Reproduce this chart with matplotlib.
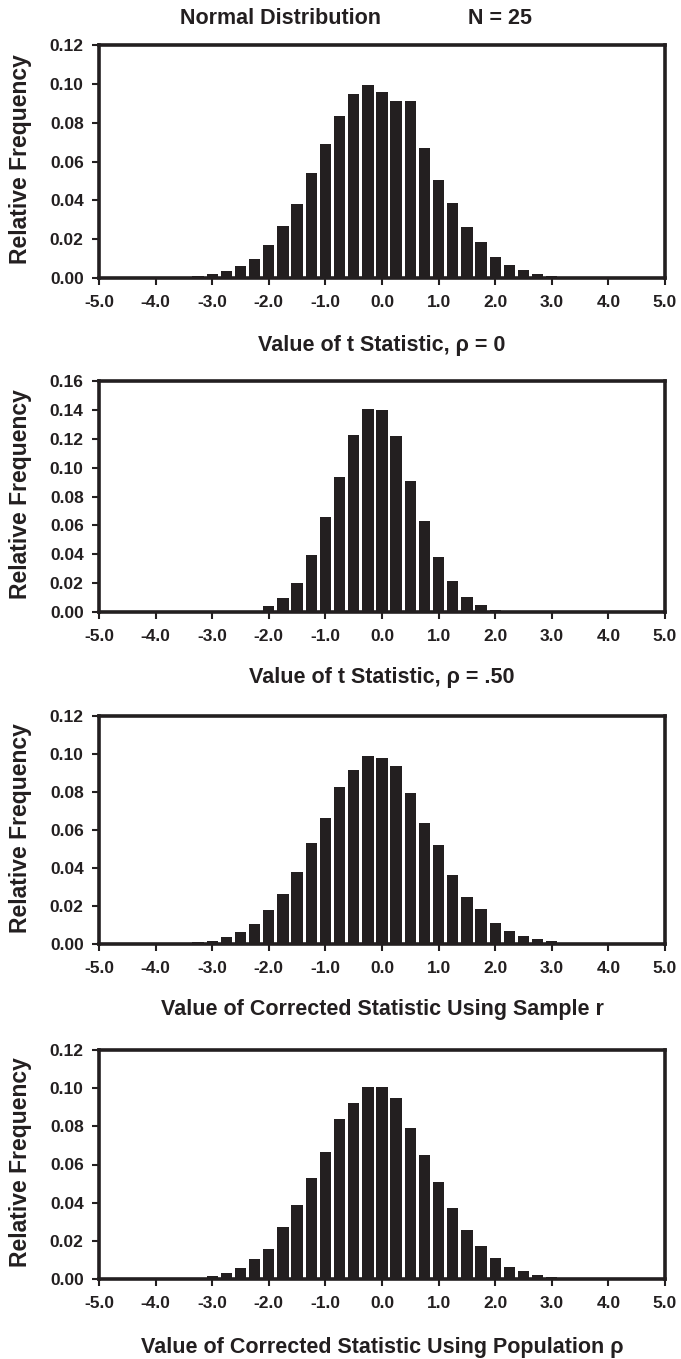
import matplotlib
matplotlib.use("Agg")
import matplotlib.pyplot as plt
import numpy as np
from matplotlib.ticker import FormatStrFormatter, MultipleLocator

plt.rcParams['font.family'] = ['Liberation Sans', 'DejaVu Sans']
plt.rcParams['font.weight'] = 'bold'

# bin centres, step 0.25 from -5 to 5
bin_centers = np.arange(-5.0, 5.001, 0.25)

# relative frequencies (41 bins each)
freq_t_rho0 = [0, 0, 0, 0, 0, 0, 0,
               0.0010, 0.0020, 0.0038, 0.0060, 0.0099, 0.0169, 0.0270, 0.0380,
               0.0539, 0.0692, 0.0832, 0.0949, 0.0994, 0.0957, 0.0914, 0.0914,
               0.0670, 0.0507, 0.0387, 0.0262, 0.0185, 0.0110, 0.0065, 0.0042,
               0.0019, 0.0012,
               0, 0, 0, 0, 0, 0, 0, 0]
freq_t_rho50 = [0, 0, 0, 0, 0, 0, 0,
                0, 0, 0, 0, 0.0009, 0.0040, 0.0098, 0.0200,
                0.0398, 0.0656, 0.0935, 0.1228, 0.1405, 0.1400, 0.1219, 0.0907,
                0.0628, 0.0379, 0.0214, 0.0107, 0.0049, 0.0016, 0, 0,
                0, 0,
                0, 0, 0, 0, 0, 0, 0, 0]
freq_corr_sample = [0, 0, 0, 0, 0, 0, 0,
                    0.0010, 0.0017, 0.0038, 0.0063, 0.0106, 0.0177, 0.0261, 0.0377,
                    0.0534, 0.0663, 0.0824, 0.0915, 0.0990, 0.0981, 0.0936, 0.0797,
                    0.0635, 0.0522, 0.0365, 0.0247, 0.0186, 0.0113, 0.0071, 0.0043,
                    0.0026, 0.0016,
                    0, 0, 0, 0, 0, 0, 0, 0]
freq_corr_pop = [0, 0, 0, 0, 0, 0, 0,
                 0, 0.0014, 0.0033, 0.0058, 0.0103, 0.0157, 0.0272, 0.0389,
                 0.0527, 0.0663, 0.0841, 0.0922, 0.1006, 0.1006, 0.0950, 0.0793,
                 0.0652, 0.0507, 0.0373, 0.0255, 0.0173, 0.0110, 0.0065, 0.0040,
                 0.0023, 0.0010,
                 0, 0, 0, 0, 0, 0, 0, 0]

panels = [freq_t_rho0, freq_t_rho50, freq_corr_sample, freq_corr_pop]
y_max = [0.12, 0.16, 0.12, 0.12]
x_labels = ["Value of t Statistic, \u03c1 = 0",
            "Value of t Statistic, \u03c1 = .50",
            "Value of Corrected Statistic Using Sample r",
            "Value of Corrected Statistic Using Population \u03c1"]

dark = "#231f20"
W, H = 681, 1359
# axes boxes in pixels: top, bottom
boxes = [(45, 278), (381, 612), (716, 944), (1050, 1279)]
xlab_y = [345, 677, 1010, 1348]
left_px, right_px = 99, 665
lab_size = 15.5

fig = plt.figure(figsize=(W / 100, H / 100), dpi=100)

for i in range(4):
    top, bot = boxes[i]
    ax = fig.add_axes([left_px / W, 1 - bot / H, (right_px - left_px) / W, (bot - top) / H])
    ax.bar(bin_centers, panels[i], width=0.2, color=dark, linewidth=0)
    ax.set_xlim(-5, 5)
    ax.set_ylim(0, y_max[i])
    ax.xaxis.set_major_locator(MultipleLocator(1.0))
    ax.yaxis.set_major_locator(MultipleLocator(0.02))
    ax.xaxis.set_major_formatter(FormatStrFormatter("%.1f"))
    ax.yaxis.set_major_formatter(FormatStrFormatter("%.2f"))
    for s in ax.spines.values():
        s.set_linewidth(2.6)
        s.set_color(dark)
    ax.tick_params(axis="both", direction="out", length=5, width=1.5, color=dark,
                   labelsize=12.5, labelcolor=dark)
    ax.tick_params(axis="x", pad=7)
    ax.tick_params(axis="y", pad=6)
    ax.set_ylabel("Relative Frequency", fontsize=16.5, fontweight="bold", color=dark)
    ax.yaxis.label.set_va("center")
    ax.yaxis.set_label_coords(-(left_px - 21) / (right_px - left_px), 0.51)
    ax.set_xlabel(x_labels[i], fontsize=lab_size, fontweight="bold", color=dark)
    ax.xaxis.label.set_va("center")
    ax.xaxis.set_label_coords(0.5, -(xlab_y[i] - bot) / (bot - top))

fig.text(281 / W, 1 - 19 / H, "Normal Distribution", ha="center", va="center",
         fontsize=lab_size, fontweight="bold", color=dark)
fig.text(500 / W, 1 - 19 / H, "N = 25", ha="center", va="center",
         fontsize=lab_size, fontweight="bold", color=dark)

fig.savefig("out.png", dpi=100)
